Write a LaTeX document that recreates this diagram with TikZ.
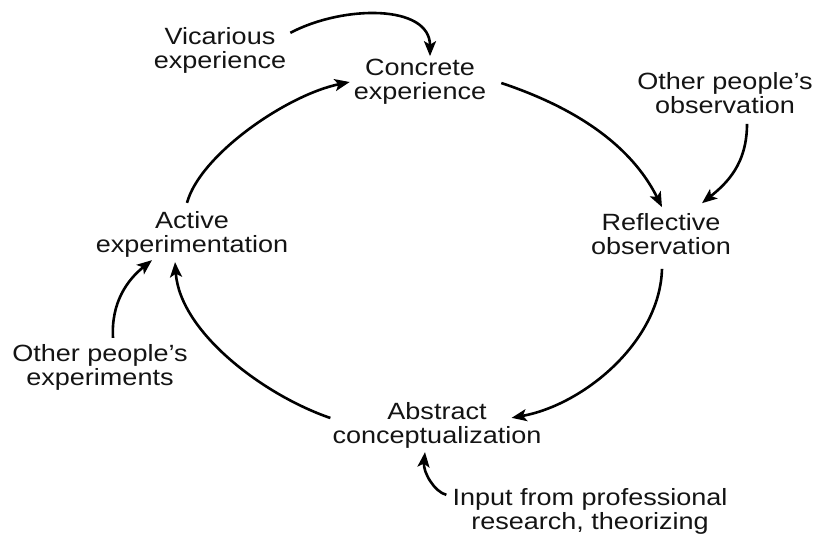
\documentclass[tikz,border=0pt]{standalone}
\usepackage{fontspec}
\setmainfont{Liberation Sans}[FakeStretch=1.15]
\usetikzlibrary{arrows.meta}
\begin{document}
\begin{tikzpicture}[x=1pt,y=-1pt,
  lbl/.style={inner sep=0pt,align=center,font=\fontsize{23.5}{24}\selectfont,text=black!92},
  arr/.style={line width=2.6pt,-{Stealth[length=15pt,width=12pt,inset=3.5pt]}}]
\useasboundingbox (0,0) rectangle (817,535);
\fill[white] (0,0) rectangle (817,535);
\node[lbl] (vic) at (220,50) {Vicarious\\experience};
\node[lbl] (ce) at (420,82) {Concrete\\experience};
\node[lbl] (oo) at (725,93) {Other people's\\observation};
\node[lbl] (ro) at (661,234) {Reflective\\observation};
\node[lbl] (ae) at (192,234) {Active\\experimentation};
\node[lbl] (ope) at (100,367) {Other people's\\experiments};
\node[lbl] (ac) at (437,425) {Abstract\\conceptualization};
\node[lbl] (inp) at (590,511) {Input from professional\\research, theorizing};
% cycle
\draw[arr] ([shift={(15,1)}]ce.east) .. controls +(60,20) and +(-35,-70) .. ([shift={(1,-6)}]ro.north);
\draw[arr] ([shift={(1,14)}]ro.south) .. controls +(-2,73) and +(72,-13) .. ([shift={(-30,16)}]ac.north east);
\draw[arr] ([shift={(-2,-7)}]ac.west) .. controls +(-67,-23) and +(5,70) .. ([shift={(-17,5)}]ae.south);
\draw[arr] ([shift={(-5,-8)}]ae.north) .. controls +(13,-48) and +(-63,13) .. ([shift={(-4,0)}]ce.west);
% inputs
\draw[arr] ([shift={(4,6)}]vic.north east) .. controls +(53,-28) and +(0,-52) .. ([shift={(10,-3)}]ce.north);
\draw[arr] ([shift={(22,10)}]oo.south) .. controls +(0,40) and +(25,-20) .. ([shift={(41,-10)}]ro.north);
\draw[arr] ([shift={(13,-6)}]ope.north) .. controls +(-2,-35) and +(-25,20) .. ([shift={(-40,3)}]ae.south);
\draw[arr] ([shift={(-6,7)}]inp.north west) .. controls +(-12,-3) and +(-2,20) .. ([shift={(-12,4)}]ac.south);
\end{tikzpicture}
\end{document}
